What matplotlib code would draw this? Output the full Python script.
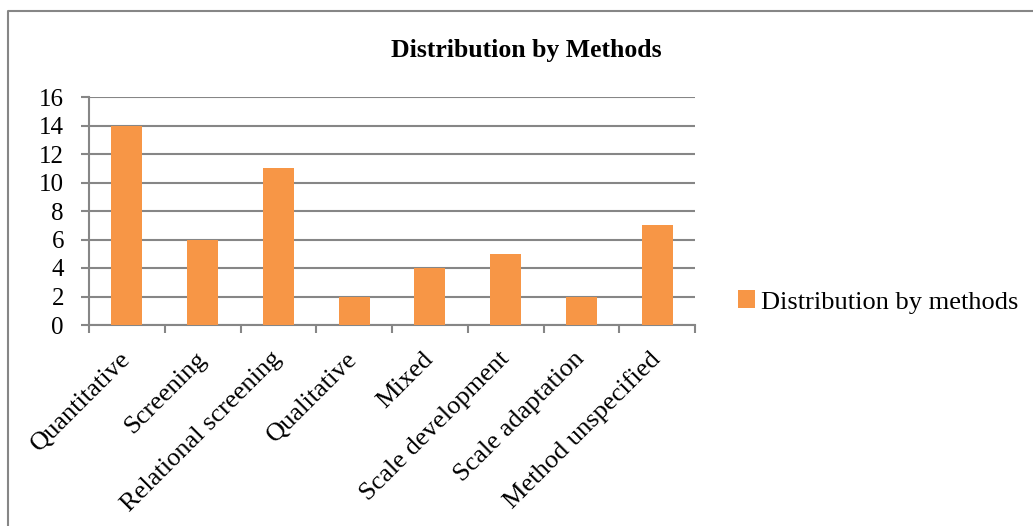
import matplotlib
matplotlib.use("Agg")
import matplotlib.pyplot as plt
from matplotlib.lines import Line2D

categories = ["Quantitative", "Screening", "Relational screening", "Qualitative",
              "Mixed", "Scale development", "Scale adaptation", "Method unspecified"]
values = [14, 6, 11, 2, 4, 5, 2, 7]
yticks = [0, 2, 4, 6, 8, 10, 12, 14, 16]

plt.rcParams['font.family'] = ['Liberation Serif', 'DejaVu Serif']

W, H = 1033, 526
fig = plt.figure(figsize=(W / 100, H / 100), dpi=100)
# chart frame: only top and left edges visible in the crop
fig.lines.append(Line2D([8 / W, 8 / W, 1.0], [0.0, 1 - 11 / H, 1 - 11 / H], transform=fig.transFigure,
                        color='#868686', linewidth=1.5))

ax = fig.add_axes([89 / W, 1 - 325 / H, (695 - 89) / W, (325 - 97) / H])
x = list(range(len(categories)))
ax.bar(x, values, width=0.41, color='#F79646', label='Distribution by methods', zorder=3)
ax.set_xlim(-0.5, len(categories) - 0.5)
ax.set_ylim(0, 16)
ax.set_yticks(yticks)
ax.set_yticklabels([str(v) for v in yticks], fontsize=18)
ax.yaxis.grid(True, color='#868686', linewidth=1.5, zorder=0)
for s in ['top', 'right']:
    ax.spines[s].set_visible(False)
for s in ['left', 'bottom']:
    ax.spines[s].set_color('#868686')
    ax.spines[s].set_linewidth(1.5)
ax.tick_params(axis='y', length=6, width=1.5, color='#868686', pad=12)
ax.set_xticks([i - 0.5 for i in range(len(categories) + 1)], minor=False)
ax.set_xticklabels([])
ax.tick_params(axis='x', which='major', length=6, width=1.5, color='#868686')
ax.set_xticks(x, minor=True)
ax.set_xticklabels(categories, minor=True, rotation=45, ha='right', va='center',
                   rotation_mode='anchor', fontsize=19)
ax.tick_params(axis='x', which='minor', length=0, pad=22)

fig.text(526 / W, 1 - 50 / H, 'Distribution by Methods', ha='center', va='center',
         fontsize=18.5, fontweight='bold')

fig.legend(handles=ax.containers[0][:1], labels=['Distribution by methods'],
           loc='center left', bbox_to_anchor=(727 / W, 1 - 302 / H), frameon=False,
           fontsize=19, handlelength=0.65, handleheight=0.65, handletextpad=0.25, borderaxespad=0)

fig.savefig('out.png', dpi=100, facecolor='white')
